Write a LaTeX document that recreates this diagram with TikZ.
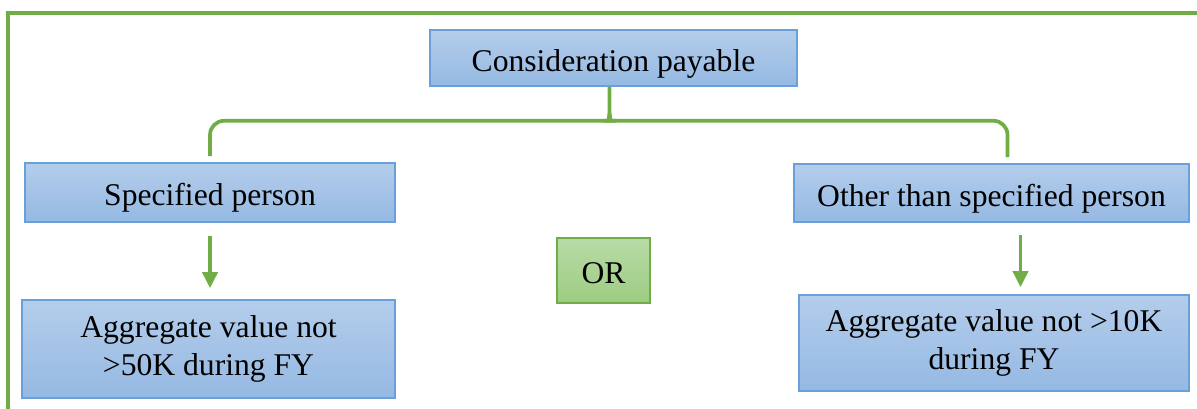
\documentclass[tikz,border=0pt]{standalone}
\usepackage{fontspec}
\setmainfont{Liberation Serif}
\usetikzlibrary{arrows.meta,positioning,calc}
\definecolor{BoxTop}{RGB}{180,205,235}
\definecolor{BoxBot}{RGB}{149,185,227}
\definecolor{BoxEdge}{RGB}{106,160,218}
\definecolor{OrTop}{RGB}{184,219,166}
\definecolor{OrBot}{RGB}{157,204,130}
\definecolor{LineGreen}{RGB}{112,173,71}

\begin{document}
\begin{tikzpicture}[x=0.02cm,y=-0.02cm,
  box/.style={draw=BoxEdge,line width=0.9pt,top color=BoxTop,bottom color=BoxBot,
    align=center,inner sep=0pt,font=\fontsize{18}{21.6}\selectfont},
  oneline/.style={text height=19pt,text depth=4pt},
  orbox/.style={box,oneline,draw=LineGreen,top color=OrTop,bottom color=OrBot},
  bracket/.style={LineGreen,line width=2.1pt},
  flow/.style={LineGreen,line width=2.1pt,-{Triangle[width=0.3cm,length=0.32cm]}}]
  \useasboundingbox (0,0) rectangle (1197,409);
  \draw[LineGreen,line width=1.9pt] (8,409) |- (1197,13);

  \node[box,oneline,minimum width=7.34cm,minimum height=1.12cm] (top) at (613.5,58) {Consideration payable};
  \node[box,oneline,minimum width=7.4cm,minimum height=1.18cm] (sp) at (210,192.5) {Specified person};
  \node[box,oneline,minimum width=7.9cm,minimum height=1.16cm] (other) at (991.5,193) {Other than specified person};
  \node[box,minimum width=7.46cm,minimum height=1.96cm] (aggL) at (208.5,349) {Aggregate value not\\>50K during FY};
  \node[box,minimum width=7.8cm,minimum height=1.92cm] (aggR) at (994,343) {Aggregate value not >10K\\during FY};
  \node[orbox,minimum width=1.86cm,minimum height=1.3cm] (or) at (603.5,270.5) {OR};

  % bracket under the top box
  \coordinate (cusp) at ($(top.south)+(-4,26)$);
  \draw[bracket] ($(sp.north)+(0,-6)$) [rounded corners=8] |- ($(cusp)+(-8,8)$)
    [sharp corners] to[out=0,in=-90] (cusp) -- (top.south -| cusp);
  \draw[bracket] ($(other.north)+(16,-6)$) [rounded corners=8] |- ($(cusp)+(8,8)$)
    [sharp corners] to[out=180,in=-90] (cusp);

  \draw[flow,shorten <=0.26cm,shorten >=0.22cm] (sp.south) -- (sp.south |- aggL.north);
  \coordinate (ra) at ($(other.south)+(29,0)$);
  \draw[flow,shorten <=0.24cm,shorten >=0.14cm] (ra) -- (ra |- aggR.north);
\end{tikzpicture}
\end{document}
